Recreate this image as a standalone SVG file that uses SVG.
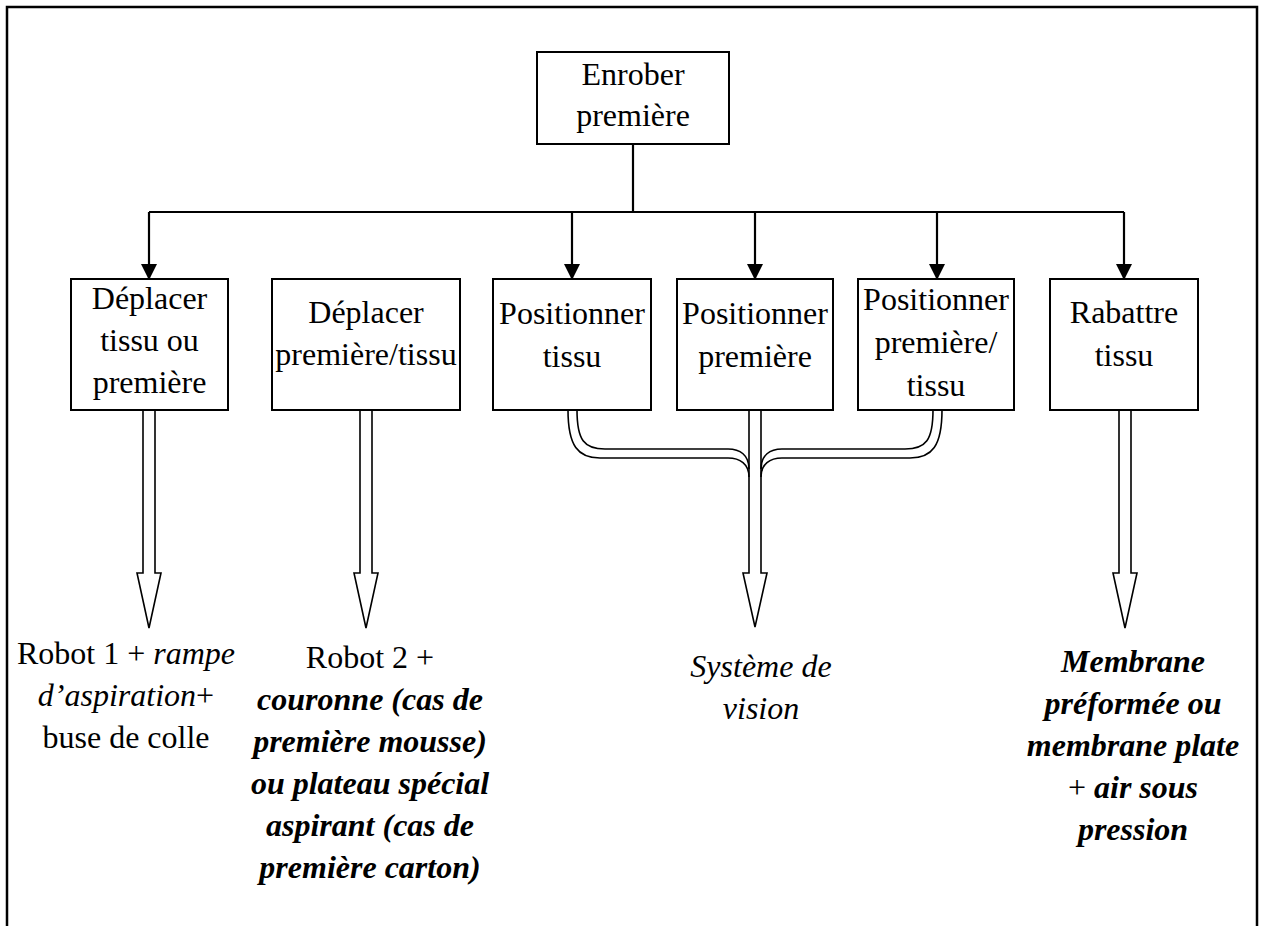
<svg xmlns="http://www.w3.org/2000/svg" width="1261" height="926" viewBox="0 0 1261 926">
<defs>
<style>
.box{fill:#fff;stroke:#000;stroke-width:2}
.t{font-family:'Liberation Serif','Times New Roman',Times,serif;font-size:32px;fill:#000;text-anchor:middle}
.it{font-style:italic}
.bi{font-style:italic;font-weight:bold}
.ln{fill:none;stroke:#000;stroke-width:2.2}
.hol{fill:#fff;stroke:#000;stroke-width:1.6;stroke-linejoin:miter}
.dbl{fill:none;stroke:#000;stroke-width:1.6}
</style>
<marker id="ah" markerUnits="userSpaceOnUse" markerWidth="16" markerHeight="16" viewBox="0 0 16 16" refX="15" refY="8" orient="auto">
<path d="M0,0 L16,8 L0,16 Z" fill="#000"/>
</marker>
</defs>
<rect width="1261" height="926" fill="#fff"/>
<rect x="7" y="7" width="1250" height="950" fill="none" stroke="#000" stroke-width="2.5"/>

<g id="connectors">
<path class="ln" d="M633,144 V212"/>
<path class="ln" d="M149,212 H1124"/>
<path class="ln" d="M149,212 V279" marker-end="url(#ah)"/>
<path class="ln" d="M572,212 V279" marker-end="url(#ah)"/>
<path class="ln" d="M755,212 V279" marker-end="url(#ah)"/>
<path class="ln" d="M937,212 V279" marker-end="url(#ah)"/>
<path class="ln" d="M1124,212 V279" marker-end="url(#ah)"/>

<path class="hol" d="M143,410 V573 H137 L149,628 L161,573 H155 V410"/>
<path class="hol" d="M360,410 V573 H354 L366,628 L378,573 H372 V410"/>
<path class="hol" d="M1119,410 V573 H1113 L1125,628 L1137,573 H1131 V410"/>
<path class="hol" d="M749,410 V573 H743 L755,627 L767,573 H761 V410"/>

<path class="dbl" d="M568,410 C568,446 578,458 600,458 H728 C740,458 749,464 749,477"/>
<path class="dbl" d="M577,410 C577,440 584,449 605,449 H728 C740,449 749,455 749,469"/>
<path class="dbl" d="M942,410 C942,446 932,458 910,458 H782 C770,458 761,464 761,477"/>
<path class="dbl" d="M933,410 C933,440 926,449 905,449 H782 C770,449 761,455 761,469"/>
</g>

<g id="n-enrober">
<rect class="box" x="537" y="52" width="192" height="92"/>
<text class="t" x="633" y="85">Enrober</text>
<text class="t" x="633" y="126">première</text>
</g>

<g id="n-deplacer1">
<rect class="box" x="71" y="279" width="157" height="131"/>
<text class="t" x="149.5" y="309">Déplacer</text>
<text class="t" x="149.5" y="351">tissu ou</text>
<text class="t" x="149.5" y="393">première</text>
</g>

<g id="n-deplacer2">
<rect class="box" x="272" y="279" width="188" height="131"/>
<text class="t" x="366" y="323">Déplacer</text>
<text class="t" x="366" y="365">première/tissu</text>
</g>

<g id="n-pos-tissu">
<rect class="box" x="493" y="279" width="158" height="131"/>
<text class="t" x="572" y="324">Positionner</text>
<text class="t" x="572" y="367">tissu</text>
</g>

<g id="n-pos-premiere">
<rect class="box" x="677" y="279" width="156" height="131"/>
<text class="t" x="755" y="324">Positionner</text>
<text class="t" x="755" y="367">première</text>
</g>

<g id="n-pos-pt">
<rect class="box" x="858" y="279" width="156" height="131"/>
<text class="t" x="936" y="310">Positionner</text>
<text class="t" x="936" y="353">première/</text>
<text class="t" x="936" y="396">tissu</text>
</g>

<g id="n-rabattre">
<rect class="box" x="1050" y="279" width="148" height="131"/>
<text class="t" x="1124" y="323">Rabattre</text>
<text class="t" x="1124" y="366">tissu</text>
</g>

<g id="r-robot1">
<text class="t" x="126" y="664">Robot 1 + <tspan class="it">rampe</tspan></text>
<text class="t" x="126" y="706"><tspan class="it">d’aspiration</tspan>+</text>
<text class="t" x="126" y="748">buse de colle</text>
</g>

<g id="r-robot2">
<text class="t" x="370" y="668">Robot 2 +</text>
<text class="t bi" x="370" y="710">couronne (cas de</text>
<text class="t bi" x="370" y="752">première mousse)</text>
<text class="t bi" x="370" y="794">ou plateau spécial</text>
<text class="t bi" x="370" y="836">aspirant (cas de</text>
<text class="t bi" x="370" y="878">première carton)</text>
</g>

<g id="r-vision">
<text class="t it" x="761" y="677">Système de</text>
<text class="t it" x="761" y="719">vision</text>
</g>

<g id="r-membrane">
<text class="t bi" x="1133" y="672">Membrane</text>
<text class="t bi" x="1133" y="714">préformée ou</text>
<text class="t bi" x="1133" y="756">membrane plate</text>
<text class="t" x="1133" y="798">+ <tspan class="bi">air sous</tspan></text>
<text class="t bi" x="1133" y="840">pression</text>
</g>
</svg>
